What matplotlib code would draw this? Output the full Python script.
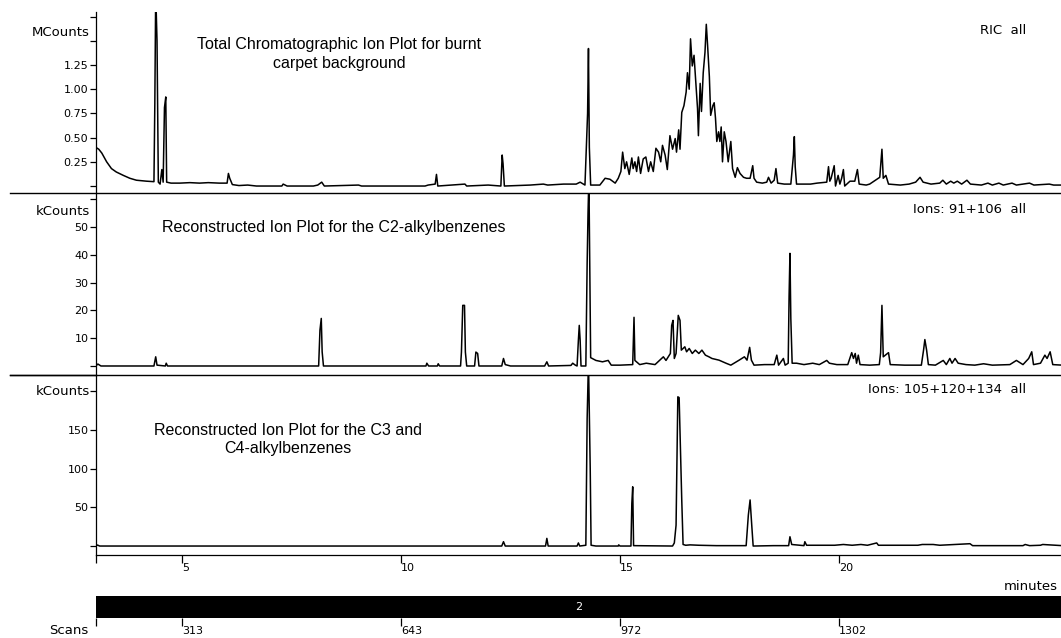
import matplotlib
matplotlib.use("Agg")
import matplotlib.pyplot as plt

# ---- retention times (minutes) and intensities read from the run ----
# Total ion chromatogram, MCounts
tic_t = [3.03, 3.10, 3.17, 3.28, 3.39, 3.50, 3.66, 3.81, 3.96, 4.19, 4.36,
         4.38, 4.40, 4.43, 4.46, 4.50, 4.54, 4.57, 4.60, 4.63, 4.65, 4.75,
         4.95, 5.18, 5.40, 5.60, 5.85, 6.03, 6.06, 6.09, 6.15, 6.30, 6.50,
         6.70, 7.00, 7.28, 7.31, 7.40, 8.00, 8.10, 8.19, 8.25, 9.03, 9.10,
         10.55, 10.62, 10.78, 10.81, 10.84, 11.46, 11.50, 11.99, 12.28, 12.31,
         12.33, 12.36, 12.95, 13.25, 13.35, 13.71, 14.00, 14.09, 14.20, 14.26,
         14.28, 14.30, 14.33, 14.45, 14.54, 14.66, 14.77, 14.89, 14.96, 15.02,
         15.06, 15.11, 15.15, 15.21, 15.27, 15.30, 15.34, 15.38, 15.42, 15.47,
         15.53, 15.59, 15.65, 15.70, 15.76, 15.82, 15.88, 15.93, 15.97, 16.03,
         16.08, 16.14, 16.20, 16.26, 16.29, 16.34, 16.37, 16.41, 16.46, 16.51,
         16.54, 16.58, 16.61, 16.65, 16.69, 16.73, 16.77, 16.79, 16.83, 16.86,
         16.90, 16.94, 16.97, 17.00, 17.04, 17.07, 17.12, 17.15, 17.18, 17.21,
         17.25, 17.28, 17.31, 17.34, 17.38, 17.42, 17.47, 17.53, 17.57, 17.63,
         17.68, 17.74, 17.82, 17.89, 17.97, 18.03, 18.06, 18.12, 18.25, 18.35,
         18.39, 18.45, 18.52, 18.56, 18.60, 18.75, 18.90, 18.96, 18.98, 19.00,
         19.03, 19.35, 19.50, 19.72, 19.76, 19.79, 19.82, 19.89, 19.92, 19.98,
         20.02, 20.06, 20.10, 20.13, 20.25, 20.36, 20.42, 20.46, 20.62, 20.70,
         20.93, 20.98, 21.01, 21.07, 21.13, 21.40, 21.60, 21.75, 21.85, 21.92,
         22.10, 22.30, 22.37, 22.45, 22.55, 22.62, 22.70, 22.80, 22.92, 23.00,
         23.25, 23.40, 23.50, 23.65, 23.75, 23.95, 24.05, 24.35, 24.45, 24.80,
         24.90, 25.10]
tic_v = [0.40, 0.38, 0.34, 0.25, 0.18, 0.145, 0.11, 0.08, 0.06, 0.05, 0.045,
         0.85, 2.00, 1.50, 0.04, 0.02, 0.17, 0.04, 0.81, 0.92, 0.04, 0.03,
         0.03, 0.035, 0.03, 0.035, 0.03, 0.03, 0.13, 0.08, 0.015, 0.005, 0.01,
         0.0, 0.0, 0.0, 0.02, 0.0, 0.0, 0.01, 0.04, 0.0, 0.01, 0.0,
         0.0, 0.01, 0.02, 0.12, 0.0, 0.02, 0.0, 0.01, 0.0, 0.32,
         0.23, 0.0, 0.01, 0.02, 0.01, 0.02, 0.02, 0.04, 0.01, 0.75,
         1.42, 0.40, 0.01, 0.01, 0.01, 0.08, 0.07, 0.03, 0.08, 0.15,
         0.35, 0.18, 0.25, 0.12, 0.29, 0.18, 0.25, 0.15, 0.30, 0.13,
         0.28, 0.30, 0.15, 0.25, 0.15, 0.39, 0.35, 0.25, 0.42, 0.32,
         0.17, 0.52, 0.38, 0.49, 0.35, 0.58, 0.38, 0.76, 0.83, 0.97,
         1.17, 1.00, 1.52, 1.24, 1.35, 1.08, 0.80, 0.52, 1.06, 0.77,
         1.17, 1.38, 1.67, 1.45, 1.13, 0.73, 0.83, 0.86, 0.70, 0.46,
         0.56, 0.46, 0.61, 0.25, 0.56, 0.46, 0.25, 0.46, 0.18, 0.09,
         0.19, 0.13, 0.09, 0.08, 0.08, 0.21, 0.08, 0.04, 0.03, 0.04,
         0.09, 0.03, 0.06, 0.18, 0.03, 0.02, 0.02, 0.32, 0.51, 0.20,
         0.02, 0.02, 0.03, 0.04, 0.20, 0.05, 0.08, 0.21, 0.0, 0.11,
         0.02, 0.08, 0.17, 0.0, 0.05, 0.05, 0.17, 0.02, 0.01, 0.02,
         0.09, 0.38, 0.08, 0.11, 0.02, 0.01, 0.02, 0.04, 0.09, 0.04,
         0.02, 0.03, 0.06, 0.02, 0.05, 0.03, 0.05, 0.02, 0.06, 0.02,
         0.01, 0.03, 0.01, 0.03, 0.01, 0.03, 0.01, 0.03, 0.01, 0.02,
         0.01, 0.01]

# Ions 91+106 (C2-alkylbenzenes), kCounts
c2_t = [3.03, 3.08, 3.15, 4.36, 4.40, 4.43, 4.62, 4.64, 4.67, 8.12, 8.15,
        8.18, 8.20, 8.23, 10.57, 10.59, 10.63, 10.83, 10.85, 10.88, 11.36,
        11.38, 11.41, 11.45, 11.47, 11.50, 11.68, 11.71, 11.75, 11.78, 12.30,
        12.34, 12.38, 12.50, 13.28, 13.33, 13.37, 13.88, 13.92, 13.98, 14.02,
        14.05, 14.07, 14.09, 14.11, 14.22, 14.25, 14.27, 14.29, 14.31, 14.33,
        14.45, 14.60, 14.73, 14.80, 15.00, 15.29, 15.32, 15.34, 15.45, 15.60,
        15.80, 15.99, 16.05, 16.15, 16.18, 16.21, 16.24, 16.28, 16.33, 16.37,
        16.40, 16.48, 16.52, 16.58, 16.65, 16.72, 16.80, 16.87, 16.95, 17.03,
        17.10, 17.26, 17.42, 17.53, 17.72, 17.84, 17.90, 17.96, 18.00, 18.06,
        18.30, 18.52, 18.58, 18.62, 18.73, 18.77, 18.84, 18.86, 18.88, 18.90,
        18.93, 19.03, 19.20, 19.40, 19.55, 19.72, 19.78, 19.95, 20.20, 20.29,
        20.33, 20.37, 20.40, 20.44, 20.48, 20.70, 20.92, 20.95, 20.98, 21.01,
        21.13, 21.17, 21.50, 21.88, 21.93, 21.96, 22.00, 22.04, 22.20, 22.38,
        22.45, 22.53, 22.58, 22.65, 22.72, 22.90, 23.10, 23.30, 23.50, 23.90,
        24.05, 24.20, 24.33, 24.40, 24.44, 24.60, 24.70, 24.75, 24.82, 24.88,
        25.10]
c2_v = [0.0, 0.7, 0.0, 0.0, 3.3, 0.3, 0.0, 1.0, 0.0, 0.0, 12.9,
        17.1, 5.1, 0.0, 0.0, 1.0, 0.0, 0.0, 0.8, 0.0, 0.0,
        5.0, 21.8, 21.8, 5.0, 0.0, 0.0, 5.0, 4.5, 0.0, 0.0,
        2.7, 0.5, 0.0, 0.0, 1.5, 0.0, 0.2, 1.0, 0.3, 0.0,
        9.3, 14.6, 9.3, 0.0, 0.0, 37.0, 55.0, 68.0, 37.0, 3.0,
        2.0, 1.5, 2.0, 0.3, 0.3, 0.5, 17.5, 2.0, 0.5, 1.0,
        0.5, 3.3, 2.0, 4.5, 14.6, 16.4, 2.7, 4.5, 18.2, 16.4,
        5.7, 6.9, 5.1, 6.3, 4.5, 5.7, 4.5, 5.7, 3.9, 3.3,
        2.7, 2.1, 1.0, 0.3, 2.1, 3.3, 2.1, 6.7, 2.1, 0.3,
        0.5, 0.5, 3.9, 0.3, 2.7, 0.3, 1.0, 25.0, 40.5, 17.0,
        1.0, 1.0, 0.5, 1.0, 0.5, 2.0, 1.0, 0.5, 0.5, 4.8,
        2.7, 4.5, 1.0, 3.9, 0.5, 0.3, 0.5, 4.8, 21.8, 3.3,
        4.8, 0.5, 0.3, 0.3, 5.7, 9.5, 5.7, 0.5, 0.3, 2.0,
        0.5, 2.7, 1.0, 2.7, 1.0, 0.5, 0.3, 0.8, 0.3, 0.5,
        2.0, 0.5, 2.7, 5.1, 0.5, 1.0, 3.9, 2.7, 5.1, 0.5,
        0.3]

# Ions 105+120+134 (C3/C4-alkylbenzenes), kCounts
c34_t = [3.03, 3.07, 3.12, 12.30, 12.34, 12.38, 13.30, 13.33, 13.36, 14.02,
         14.05, 14.08, 14.22, 14.25, 14.28, 14.32, 14.34, 14.45, 14.96, 14.97,
         15.00, 15.25, 15.27, 15.29, 15.31, 16.20, 16.24, 16.28, 16.32, 16.35,
         16.41, 16.44, 16.50, 16.60, 16.80, 17.20, 17.88, 17.93, 17.97, 18.01,
         18.04, 18.50, 18.85, 18.88, 18.92, 19.20, 19.22, 19.26, 19.60, 19.90,
         20.10, 20.30, 20.50, 20.65, 20.86, 20.90, 21.80, 21.90, 22.15, 22.30,
         22.99, 23.05, 24.20, 24.25, 24.35, 24.60, 24.65, 25.10]
c34_v = [0.0, 1.3, 0.0, 0.0, 5.6, 0.0, 0.0, 9.9, 0.0, 0.0,
         4.0, 0.0, 1.0, 165.0, 240.0, 100.5, 1.0, 0.0, 0.0, 1.5,
         0.0, 0.0, 55.0, 76.6, 0.5, 0.0, 4.0, 27.0, 193.0, 192.0,
         59.0, 2.0, 1.0, 1.5, 1.0, 0.5, 0.5, 40.0, 59.6, 25.0,
         0.0, 0.5, 0.5, 12.0, 2.0, 0.5, 5.6, 1.0, 1.0, 1.0,
         2.0, 1.0, 2.0, 1.0, 4.0, 1.0, 1.0, 2.0, 2.0, 1.0,
         3.0, 0.5, 0.5, 2.0, 0.5, 1.0, 2.0, 0.5]

minute_ticks = [5, 10, 15, 20]
scan_labels = ["313", "643", "972", "1302"]

tic_yticks = [0, 0.25, 0.5, 0.75, 1.0, 1.25, 1.5, 1.75]
tic_ylabels = ["", "0.25", "0.50", "0.75", "1.00", "1.25", "", ""]
c2_yticks = [0, 10, 20, 30, 40, 50, 60]
c2_ylabels = ["", "10", "20", "30", "40", "50", ""]
c34_yticks = [0, 50, 100, 150, 200]
c34_ylabels = ["", "50", "100", "150", ""]

T0, T1 = 3.037, 25.068

plt.rcParams["font.family"] = ["DejaVu Sans"]
W, H = 1061, 638
fig = plt.figure(figsize=(W / 100, H / 100), dpi=100)


def box(x0, y0, x1, y1):
    return [x0 / W, 1 - y1 / H, (x1 - x0) / W, (y1 - y0) / H]


ax_tic = fig.add_axes(box(96, 12, 1061, 193))
ax_c2 = fig.add_axes(box(96, 193, 1061, 375))
ax_c34 = fig.add_axes(box(96, 375, 1061, 555))
ax_scan = fig.add_axes(box(96, 596, 1061, 618))

title_font = dict(family="Liberation Sans", fontsize=11.5)
small = 8      # tick numbers
label = 9.5    # unit / ion / scale captions

panels = [
    (ax_tic, tic_t, tic_v, (-0.072, 1.797), tic_yticks, tic_ylabels),
    (ax_c2, c2_t, c2_v, (-3.24, 62.2), c2_yticks, c2_ylabels),
    (ax_c34, c34_t, c34_v, (-11.6, 221.2), c34_yticks, c34_ylabels),
]
for ax, t, v, ylim, yt, yl in panels:
    ax.plot(t, v, color="black", lw=1.1)
    ax.set_xlim(T0, T1)
    ax.set_ylim(*ylim)
    ax.set_yticks(yt)
    ax.set_yticklabels(yl, fontsize=small)
    ax.tick_params(axis="y", direction="out", length=4, width=0.9, pad=1.5)
    for side in ("top", "right", "bottom"):
        ax.spines[side].set_visible(False)
    ax.spines["left"].set_linewidth(0.9)
    ax.set_facecolor("none")

# separators between the panels run out past the left axis
for ax in (ax_tic, ax_c2):
    ax.plot([-0.089, 1.0], [0, 0], transform=ax.transAxes, color="black",
            lw=1.0, clip_on=False)
    ax.set_xticks([])
ax_c34.plot([-0.089, 0.0], [1, 1], transform=ax_c34.transAxes, color="black",
            lw=1.0, clip_on=False)

ax_c34.spines["bottom"].set_visible(True)
ax_c34.spines["bottom"].set_linewidth(0.9)
ax_c34.set_xticks([T0] + minute_ticks)
ax_c34.set_xticklabels([""] + [str(m) for m in minute_ticks], fontsize=small)
ax_c34.tick_params(axis="x", direction="out", length=6, width=0.9, pad=0)
for lbl in ax_c34.get_xticklabels():
    lbl.set_horizontalalignment("left")

# unit labels on the y axes
ytx = -0.0065
ax_tic.text(ytx, 1.59, "MCounts", transform=ax_tic.get_yaxis_transform(),
            ha="right", va="center", fontsize=label)
ax_c2.text(ytx, 55.7, "kCounts", transform=ax_c2.get_yaxis_transform(),
           ha="right", va="center", fontsize=label)
ax_c34.text(ytx, 200, "kCounts", transform=ax_c34.get_yaxis_transform(),
            ha="right", va="center", fontsize=label)

# trace titles and ion labels
ax_tic.text(0.252, 0.768, "Total Chromatographic Ion Plot for burnt\ncarpet background",
            transform=ax_tic.transAxes, ha="center", va="center",
            multialignment="center", linespacing=1.35, **title_font)
ax_c2.text(0.246, 0.813, "Reconstructed Ion Plot for the C2-alkylbenzenes",
           transform=ax_c2.transAxes, ha="center", va="center", **title_font)
ax_c34.text(0.199, 0.639, "Reconstructed Ion Plot for the C3 and\nC4-alkylbenzenes",
            transform=ax_c34.transAxes, ha="center", va="center",
            multialignment="center", linespacing=1.25, **title_font)

ax_tic.text(0.964, 0.90, "RIC  all", transform=ax_tic.transAxes,
            ha="right", va="center", fontsize=label)
ax_c2.text(0.964, 0.907, "Ions: 91+106  all", transform=ax_c2.transAxes,
           ha="right", va="center", fontsize=label)
ax_c34.text(0.964, 0.917, "Ions: 105+120+134  all", transform=ax_c34.transAxes,
            ha="right", va="center", fontsize=label)

fig.text(1058 / W, 1 - 587 / H, "minutes", ha="right", va="center",
         fontsize=label)

# scan number bar
ax_scan.set_facecolor("black")
ax_scan.set_xlim(T0, T1)
ax_scan.set_ylim(0, 1)
ax_scan.set_yticks([])
for s in ax_scan.spines.values():
    s.set_visible(False)
ax_scan.set_xticks([T0] + minute_ticks)
ax_scan.set_xticklabels([""] + scan_labels, fontsize=small)
ax_scan.tick_params(axis="x", direction="out", length=6, width=0.9, pad=0)
for lbl in ax_scan.get_xticklabels():
    lbl.set_horizontalalignment("left")
ax_scan.text(0.5, 0.5, "2", transform=ax_scan.transAxes, color="white",
             ha="center", va="center", fontsize=small)
fig.text(88 / W, 1 - 631 / H, "Scans", ha="right", va="center",
         fontsize=label)

fig.savefig("out.png", dpi=100)
